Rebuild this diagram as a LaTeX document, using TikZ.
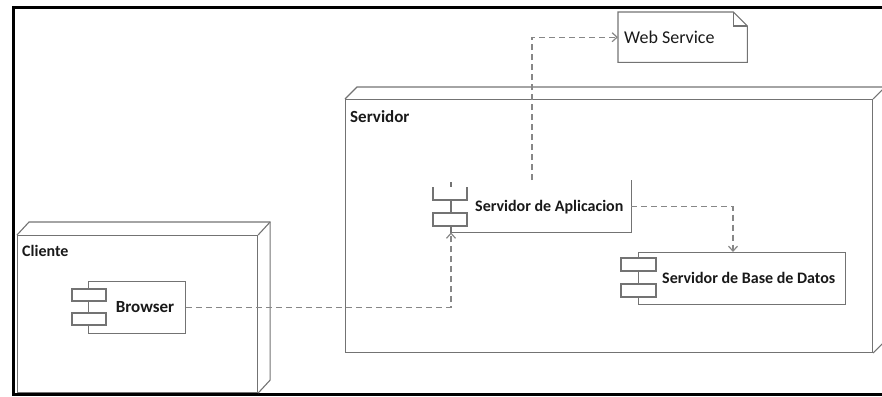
\documentclass[tikz,border=0pt]{standalone}
\usepackage{fontspec}
\setmainfont{Carlito}
\usetikzlibrary{arrows.meta, calc, positioning}
\definecolor{linegray}{RGB}{115,115,115}
\definecolor{dashgray}{RGB}{135,135,135}
\definecolor{textdark}{RGB}{25,25,25}

\begin{document}
\begin{tikzpicture}[x=1pt, y=-1pt,
    boxline/.style={draw=linegray, line width=1.1},
    comp/.style={boxline, fill=white, inner sep=0},
    tab/.style={boxline, fill=white},
    dep/.style={dashgray, dashed, dash pattern=on 6pt off 4pt, line width=1.2,
        -{Straight Barb[length=5pt, width=9pt]}},
    lbl/.style={textdark, font=\fontsize{16}{18}\selectfont\bfseries, inner sep=0},
    frame/.style={black, line width=3}]
    \useasboundingbox (0,0) rectangle (882,396);

    % Outer frame (right side falls outside the picture)
    \draw[frame] (900,8) -- (13,8) -- (13,394) -- (900,394);

    % Cliente node (3D box)
    \node[boxline, minimum width=240, minimum height=157, anchor=north west] (cliente) at (17,235) {};
    \draw[boxline] (cliente.north west) -- ++(12,-13) -- ($(cliente.north east)+(12,-13)$)
        -- ($(cliente.south east)+(12,-13)$) -- (cliente.south east);
    \draw[boxline] (cliente.north east) -- ++(12,-13);
    \node[lbl, anchor=north west] (cliente label) at (22,245) {Cliente};

    % Servidor node (3D box)
    \node[boxline, minimum width=527, minimum height=253, anchor=north west] (servidor) at (345,99) {};
    \draw[boxline] (servidor.north west) -- ++(12,-12) -- ($(servidor.north east)+(12,-12)$)
        -- ($(servidor.south east)+(12,-12)$) -- (servidor.south east);
    \draw[boxline] (servidor.north east) -- ++(12,-12);
    \node[lbl, anchor=north west, font=\fontsize{17}{19}\selectfont\bfseries] (servidor label) at (350,110) {Servidor};

    % Web Service note
    \node[anchor=north west, minimum width=129, minimum height=50] (ws) at (618,12) {};
    \draw[boxline] (ws.north west) -- ($(ws.north east)+(-14,0)$) -- ($(ws.north east)+(0,14)$)
        -- (ws.south east) -- (ws.south west) -- cycle;
    \draw[boxline] ($(ws.north east)+(-14,0)$) -- ++(0,14) -- ++(14,0);
    \node[textdark, font=\fontsize{18}{20}\selectfont, anchor=west, inner sep=0] (ws label) at (624,37) {Web Service};

    % Browser component
    \node[comp, minimum width=97, minimum height=52, anchor=north west] (browser) at (88,281) {};
    \draw[tab] (72,289) rectangle (106,301);
    \draw[tab] (72,313) rectangle (106,325);
    \node[lbl, font=\fontsize{17}{19}\selectfont\bfseries] (browser label) at (145,307) {Browser};

    % Servidor de Aplicacion component (top edge not shown)
    \node[minimum width=180, minimum height=52, anchor=north west, inner sep=0] (app) at (451,180) {};
    \draw[boxline] (451,182) -- (app.south west) -- (app.south east) -- (app.north east);
    \draw[boxline, fill=white] (433,187) -- (433,200) -- (467,200) -- (467,187);
    \draw[tab] (433,213) rectangle (467,226);
    \node[lbl, anchor=west] (app label) at (475,207) {Servidor de Aplicacion};

    % Servidor de Base de Datos component
    \node[comp, minimum width=207, minimum height=52, anchor=north west] (db) at (638,252) {};
    \draw[tab] (621,258) rectangle (656,271);
    \draw[tab] (621,284) rectangle (656,297);
    \node[lbl, anchor=west] (db label) at (662,278) {Servidor de Base de Datos};

    % Dependencies
    \draw[dep] (browser.east) -| (app.south west);
    \draw[dep] ($(app.north west)+(81,0)$) |- (ws.west);
    \draw[dep] (app.east) -| ($(db.north west)+(95,0)$);
\end{tikzpicture}
\end{document}
